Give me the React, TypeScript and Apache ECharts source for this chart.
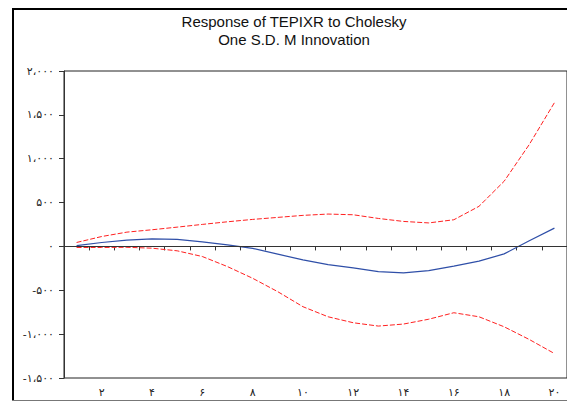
import React, { useEffect, useRef } from "react";
import * as echarts from "echarts";

const periods = ["1","2","3","4","5","6","7","8","9","10","11","12","13","14","15","16","17","18","19","20"];
const response = [10, 45, 72, 85, 80, 53, 18, -22, -88, -153, -208, -245, -288, -302, -276, -225, -168, -85, 65, 209];
const upperBand = [45, 113, 163, 190, 220, 251, 281, 308, 331, 354, 369, 361, 319, 285, 268, 304, 457, 743, 1162, 1639];
const lowerBand = [-12, -12, -10, -20, -50, -115, -230, -363, -516, -687, -802, -870, -908, -885, -830, -756, -802, -916, -1061, -1221];
const titleLines = ["Response of TEPIXR to Cholesky", "One S.D. M Innovation"];

const faDigits = ["۰","۱","۲","۳","۴","۵","۶","۷","۸","۹"];
const toFa = (s: string) => s.replace(/[0-9]/g, (d) => faDigits[Number(d)]);
const fmtY = (v: number) => {
  const a = Math.abs(v);
  let s = String(a);
  if (a >= 1000) s = String(Math.floor(a / 1000)) + "،" + String(a % 1000).padStart(3, "0");
  return (v < 0 ? "-" : "") + toFa(s);
};

export default function App() {
  const ref = useRef<HTMLDivElement>(null);
  useEffect(() => {
    if (!ref.current) return;
    const chart = echarts.init(ref.current, null, { renderer: "svg" });
    const faFont = "DejaVu Sans";
    chart.setOption({
      animation: false,
      backgroundColor: "#fff",
      grid: { left: 64, top: 71, width: 509, height: 307, show: true, borderColor: "#222", borderWidth: 1, backgroundColor: "transparent" },
      graphic: [
        { type: "line", shape: { x1: 13, y1: 9, x2: 13, y2: 401 }, style: { stroke: "#000", lineWidth: 2 } },
        { type: "line", shape: { x1: 12, y1: 9, x2: 567, y2: 9 }, style: { stroke: "#000", lineWidth: 2 } },
        { type: "line", shape: { x1: 12, y1: 400.5, x2: 567, y2: 400.5 }, style: { stroke: "#777", lineWidth: 1 } },
        { type: "text", x: 294, y: 21, style: { text: titleLines[0], textAlign: "center", textVerticalAlign: "middle", font: "15px 'Liberation Sans', Arial", fill: "#111" } },
        { type: "text", x: 294, y: 39, style: { text: titleLines[1], textAlign: "center", textVerticalAlign: "middle", font: "15px 'Liberation Sans', Arial", fill: "#111" } },
      ],
      xAxis: {
        type: "category",
        data: periods,
        boundaryGap: true,
        axisLine: { lineStyle: { color: "#333" } },
        axisTick: { show: true, interval: 0, length: 4, lineStyle: { color: "#333" } },
        axisLabel: {
          interval: (i: number) => (i + 1) % 2 === 0,
          formatter: (v: string) => toFa(v),
          margin: 9,
          fontSize: 11,
          fontFamily: faFont,
          color: "#222",
        },
        splitLine: { show: false },
      },
      yAxis: {
        type: "value",
        min: -1500,
        max: 2000,
        interval: 500,
        axisLine: { show: true, lineStyle: { color: "#333" } },
        axisTick: { show: true, length: 5, lineStyle: { color: "#333" } },
        axisLabel: { formatter: (v: number) => fmtY(v), margin: 10, fontSize: 11, fontFamily: faFont, color: "#222" },
        splitLine: { show: false },
      },
      series: [
        {
          type: "line",
          data: upperBand,
          symbol: "none",
          lineStyle: { color: "#ff2020", width: 1, type: [5, 2] },
          z: 3,
        },
        {
          type: "line",
          data: lowerBand,
          symbol: "none",
          lineStyle: { color: "#ff2020", width: 1, type: [5, 2] },
          z: 3,
        },
        {
          type: "line",
          data: response,
          symbol: "none",
          lineStyle: { color: "#2f4fa8", width: 1.2 },
          z: 4,
          markLine: {
            silent: true,
            symbol: "none",
            label: { show: false },
            lineStyle: { color: "#333", type: "solid", width: 1 },
            data: [{ yAxis: 0 }],
          },
        },
      ],
    });
    return () => chart.dispose();
  }, []);
  return <div ref={ref} style={{ position: "fixed", left: 0, top: 0, width: 567, height: 403 }} />;
}
